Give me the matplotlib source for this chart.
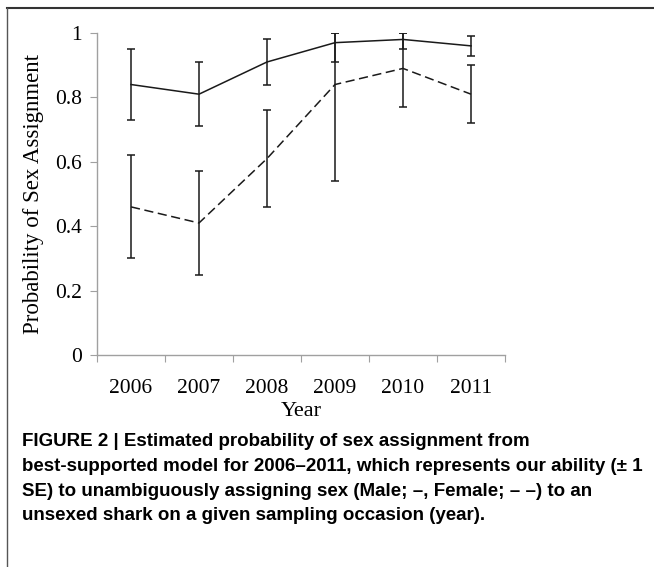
import matplotlib
matplotlib.use("Agg")
import matplotlib.pyplot as plt
from matplotlib.lines import Line2D

# Values
years = ["2006", "2007", "2008", "2009", "2010", "2011"]
male = [0.84, 0.81, 0.91, 0.97, 0.98, 0.96]
male_lo = [0.73, 0.71, 0.84, 0.91, 0.95, 0.93]
male_hi = [0.95, 0.91, 0.98, 1.00, 1.00, 0.99]
female = [0.46, 0.41, 0.61, 0.84, 0.89, 0.81]
female_lo = [0.30, 0.25, 0.46, 0.54, 0.77, 0.72]
female_hi = [0.62, 0.57, 0.76, 1.00, 1.00, 0.90]
yticks = [0, 0.2, 0.4, 0.6, 0.8, 1]
ytick_labels = ["0", "0.2", "0.4", "0.6", "0.8", "1"]

caption = ("FIGURE 2 | Estimated probability of sex assignment from\n"
           "best-supported model for 2006\u20132011, which represents our ability (\u00b1 1\n"
           "SE) to unambiguously assigning sex (Male; \u2013, Female; \u2013 \u2013) to an\n"
           "unsexed shark on a given sampling occasion (year).")

serif = ["Liberation Serif", "DejaVu Serif"]

fig = plt.figure(figsize=(6.54, 5.67), dpi=100)
ax = fig.add_axes([97 / 654, 1 - 355 / 567, 408 / 654, 322 / 567])

x = list(range(len(years)))


def draw(vals, lo, hi, ls):
    err = [[v - l for v, l in zip(vals, lo)], [h - v for v, h in zip(vals, hi)]]
    ax.errorbar(x, vals, yerr=err, color="#1a1a1a", lw=1.1, elinewidth=1.1,
                capsize=3, capthick=1.1, linestyle=ls)


draw(male, male_lo, male_hi, "-")
draw(female, female_lo, female_hi, (0, (6, 3)))

ax.set_xlim(-0.5, len(years) - 0.5)
ax.set_ylim(0, 1)
for s in ["top", "right"]:
    ax.spines[s].set_visible(False)
for s in ["left", "bottom"]:
    ax.spines[s].set_color("#a0a0a0")
    ax.spines[s].set_linewidth(1.0)

ax.set_yticks(yticks)
ax.set_yticklabels(ytick_labels, fontfamily=serif, fontsize=15.5)
ax.tick_params(axis="y", length=5, color="#a0a0a0", pad=6)

ax.set_xticks([i - 0.5 for i in range(len(years) + 1)])
ax.set_xticklabels([])
ax.set_xticks(x, minor=True)
ax.set_xticklabels(years, minor=True, fontfamily=serif, fontsize=15.5)
ax.tick_params(axis="x", which="major", length=5, color="#a0a0a0")
ax.tick_params(axis="x", which="minor", length=0, pad=17)

ax.set_xlabel("Year", fontfamily=serif, fontsize=16, labelpad=3)
ax.set_ylabel("Probability of Sex Assignment", fontfamily=serif, fontsize=16.5, labelpad=8)

fig.text(22 / 654, 1 - 433 / 567, caption, fontfamily="Liberation Sans", fontweight="bold",
         fontsize=13.5, va="top", ha="left", linespacing=1.6)

# frame lines of the figure panel
fig.add_artist(Line2D([7 / 654, 1], [1 - 8 / 567, 1 - 8 / 567], color="#333333", lw=1.5))
fig.add_artist(Line2D([7 / 654, 7 / 654], [0, 1 - 8 / 567], color="#555555", lw=1.0))

fig.savefig("out.png", dpi=100)
